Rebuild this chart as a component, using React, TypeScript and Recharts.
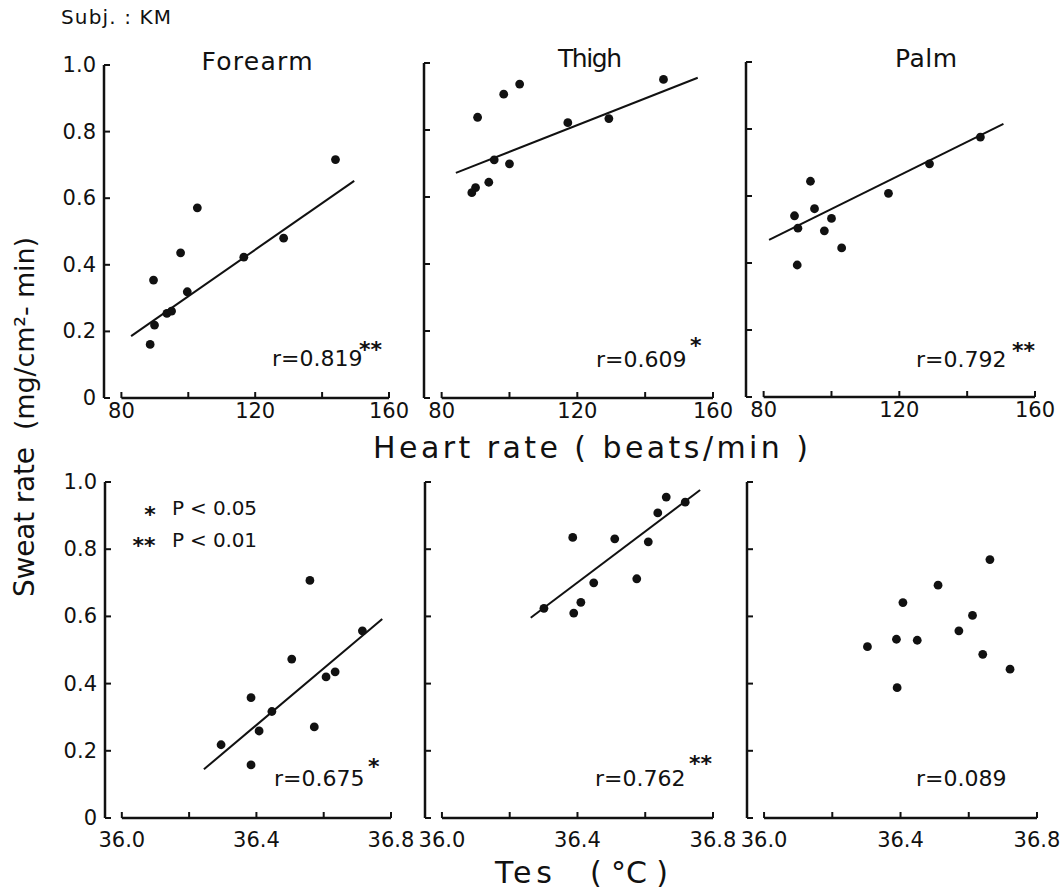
import React from 'react';
import { ScatterChart, Scatter, XAxis, YAxis, ReferenceLine } from 'recharts';

// sweat rate (mg/cm2-min) against heart rate (beats/min)
const forearmHr = [
  [88.6, 0.161], [89.6, 0.354], [89.9, 0.219], [93.6, 0.254], [95.0, 0.261], [97.7, 0.436],
  [99.7, 0.319], [102.7, 0.571], [116.6, 0.423], [128.5, 0.48], [144.0, 0.716],
];
const thighHr = [
  [90.6, 0.838], [98.3, 0.907], [103.0, 0.937], [117.2, 0.822], [129.3, 0.834], [145.4, 0.951],
  [95.5, 0.711], [100.0, 0.699], [93.9, 0.644], [90.0, 0.628], [88.9, 0.613],
];
const palmHr = [
  [89.1, 0.541], [90.1, 0.504], [89.9, 0.394], [93.8, 0.644], [95.0, 0.562], [97.9, 0.496],
  [100.0, 0.533], [103.0, 0.445], [116.8, 0.608], [128.9, 0.696], [143.9, 0.776],
];

// sweat rate against esophageal temperature (deg C)
const forearmTes = [
  [36.295, 0.218], [36.384, 0.358], [36.384, 0.158], [36.408, 0.259], [36.446, 0.317], [36.505, 0.473],
  [36.559, 0.707], [36.572, 0.271], [36.607, 0.42], [36.634, 0.435], [36.715, 0.557],
];
const thighTes = [
  [36.301, 0.624], [36.386, 0.835], [36.389, 0.61], [36.41, 0.642], [36.448, 0.7], [36.51, 0.831],
  [36.575, 0.712], [36.609, 0.822], [36.637, 0.908], [36.662, 0.955], [36.718, 0.94],
];
const palmTes = [
  [36.303, 0.51], [36.388, 0.532], [36.39, 0.388], [36.407, 0.641], [36.449, 0.529], [36.51, 0.693],
  [36.571, 0.557], [36.611, 0.603], [36.641, 0.487], [36.662, 0.769], [36.721, 0.443],
];

// regression line end points
const forearmHrFit = [[82.9, 0.186], [149.6, 0.652]];
const thighHrFit = [[84.2, 0.672], [155.5, 0.956]];
const palmHrFit = [[81.6, 0.469], [150.7, 0.815]];
const forearmTesFit = [[36.244, 0.145], [36.774, 0.592]];
const thighTesFit = [[36.262, 0.596], [36.762, 0.976]];

const sweatTicks = [0, 0.2, 0.4, 0.6, 0.8, 1.0];
const hrTicks = [80, 100, 120, 140, 160];
const hrLabels = [80, 120, 160];
const tesTicks = [36.0, 36.2, 36.4, 36.6, 36.8];
const tesLabels = [36.0, 36.4, 36.8];

const INK = '#111';
const FONT = '"DejaVu Sans", sans-serif';

const toXY = (pairs: number[][]) => pairs.map(([x, y]) => ({ x, y }));

function Panel({ box, points, fit, xDomain, xTicks, xLabels, digits, showY, labelDy }: any) {
  const ML = 70, MR = 40, MT = 15, MB = 45;
  const last = xTicks[xTicks.length - 1];

  const xTick = (p: any) => {
    const v = p.payload.value;
    const show = xLabels.some((l: number) => Math.abs(l - v) < 1e-6);
    return (
      <g>
        <line x1={p.x} x2={p.x} y1={p.y} y2={p.y - 6} stroke={INK} strokeWidth={2} />
        {show && (
          <text x={p.x} y={p.y + labelDy} textAnchor="middle" fontSize={21} fontFamily={FONT} fill={INK}>
            {v.toFixed(digits)}
          </text>
        )}
      </g>
    );
  };

  const yTick = (p: any) => {
    const v = p.payload.value;
    return (
      <g>
        <line x1={p.x} x2={p.x + 6} y1={p.y} y2={p.y} stroke={INK} strokeWidth={2} />
        {showY && (
          <text x={p.x - 8} y={p.y + 7} textAnchor="end" fontSize={21} fontFamily={FONT} fill={INK}>
            {v === 0 ? '0' : v.toFixed(1)}
          </text>
        )}
      </g>
    );
  };

  return (
    <div style={{ position: 'absolute', left: box.left - ML, top: box.top - MT }}>
      <ScatterChart
        width={box.w + ML + MR}
        height={box.h + MT + MB}
        margin={{ top: MT, right: MR, bottom: 0, left: 0 }}
      >
        <XAxis
          type="number"
          dataKey="x"
          domain={xDomain}
          ticks={xTicks}
          interval={0}
          height={MB}
          axisLine={false}
          tickLine={false}
          tickSize={0}
          tickMargin={0}
          tick={xTick}
        />
        <YAxis
          type="number"
          dataKey="y"
          domain={[0, 1]}
          ticks={sweatTicks}
          interval={0}
          width={ML}
          axisLine={{ stroke: INK, strokeWidth: 2.5 }}
          tickLine={false}
          tickSize={0}
          tickMargin={0}
          tick={yTick}
        />
        <ReferenceLine
          segment={[{ x: xTicks[0], y: 0 }, { x: last, y: 0 }]}
          stroke={INK}
          strokeWidth={2.5}
        />
        {fit && (
          <ReferenceLine
            segment={[{ x: fit[0][0], y: fit[0][1] }, { x: fit[1][0], y: fit[1][1] }]}
            stroke={INK}
            strokeWidth={2}
          />
        )}
        <Scatter
          data={toXY(points)}
          isAnimationActive={false}
          shape={(p: any) => <circle cx={p.cx} cy={p.cy} r={4.4} fill={INK} />}
        />
      </ScatterChart>
    </div>
  );
}

const hrDomain = [74.8, 160];
const tesDomain = [35.95, 36.8];

const notes = [
  { x: 272, y: 366, r: 'r=0.819', s: '**', sx: 359, sy: 357 },
  { x: 596, y: 367, r: 'r=0.609', s: '*', sx: 690, sy: 353 },
  { x: 916, y: 367, r: 'r=0.792', s: '**', sx: 1012, sy: 358 },
  { x: 274, y: 786, r: 'r=0.675', s: '*', sx: 368, sy: 774 },
  { x: 595, y: 786, r: 'r=0.762', s: '**', sx: 689, sy: 771 },
  { x: 916, y: 786, r: 'r=0.089', s: '', sx: 0, sy: 0 },
];

export default function App() {
  return (
    <div style={{ position: 'absolute', left: 0, top: 0, width: 1063, height: 890, background: '#fff' }}>
      <Panel box={{ left: 104, top: 65, w: 285, h: 333 }} points={forearmHr} fit={forearmHrFit}
        xDomain={hrDomain} xTicks={hrTicks} xLabels={hrLabels} digits={0} showY labelDy={20} />
      <Panel box={{ left: 424, top: 63, w: 289, h: 335 }} points={thighHr} fit={thighHrFit}
        xDomain={hrDomain} xTicks={hrTicks} xLabels={hrLabels} digits={0} labelDy={20} />
      <Panel box={{ left: 746, top: 62, w: 289, h: 335 }} points={palmHr} fit={palmHrFit}
        xDomain={hrDomain} xTicks={hrTicks} xLabels={hrLabels} digits={0} labelDy={20} />
      <Panel box={{ left: 105, top: 482, w: 286, h: 336 }} points={forearmTes} fit={forearmTesFit}
        xDomain={tesDomain} xTicks={tesTicks} xLabels={tesLabels} digits={1} showY labelDy={29} />
      <Panel box={{ left: 425, top: 482, w: 288, h: 336 }} points={thighTes} fit={thighTesFit}
        xDomain={tesDomain} xTicks={tesTicks} xLabels={tesLabels} digits={1} labelDy={29} />
      <Panel box={{ left: 747, top: 482, w: 290, h: 336 }} points={palmTes} fit={null}
        xDomain={tesDomain} xTicks={tesTicks} xLabels={tesLabels} digits={1} labelDy={29} />

      <svg width={1063} height={890} style={{ position: 'absolute', left: 0, top: 0, pointerEvents: 'none' }}
        fontFamily={FONT} fill={INK}>
        <text x={61} y={24} fontSize={20} textLength={110}>Subj. : KM</text>

        <text x={257} y={70} fontSize={25} textAnchor="middle" textLength={111}>Forearm</text>
        <text x={590} y={67} fontSize={25} textAnchor="middle" textLength={64}>Thigh</text>
        <text x={926} y={67} fontSize={25} textAnchor="middle" textLength={62}>Palm</text>

        <text x={373} y={458} fontSize={30} textLength={435}>Heart rate ( beats/min )</text>
        <text x={495} y={883} fontSize={30} textLength={57}>Tes</text>
        <text x={590} y={883} fontSize={30} textLength={78}>( °C )</text>

        <text transform="translate(34,597) rotate(-90)" fontSize={28} textLength={150}>Sweat rate</text>
        <text transform="translate(34,430) rotate(-90)" fontSize={27} textLength={193}>(mg/cm²- min)</text>

        <text x={150} y={522} fontSize={22} fontWeight="bold" textAnchor="middle">*</text>
        <text x={172} y={515} fontSize={20} textLength={85}>P &lt; 0.05</text>
        <text x={144} y={553} fontSize={22} fontWeight="bold" textAnchor="middle">**</text>
        <text x={172} y={547} fontSize={20} textLength={85}>P &lt; 0.01</text>

        {notes.map((n) => (
          <g key={n.r}>
            <text x={n.x} y={n.y} fontSize={22}>{n.r}</text>
            {n.s && <text x={n.sx} y={n.sy} fontSize={22} fontWeight="bold">{n.s}</text>}
          </g>
        ))}
      </svg>
    </div>
  );
}
